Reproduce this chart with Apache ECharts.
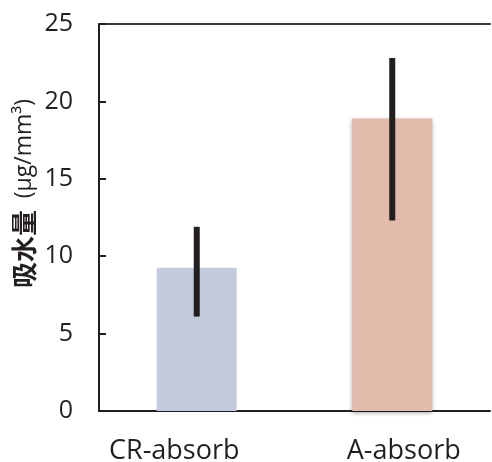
<!DOCTYPE html>
<html>
<head>
<meta charset="utf-8">
<script src="https://cdn.jsdelivr.net/npm/echarts@6/dist/echarts.min.js"></script>
<style>
  html, body { margin: 0; padding: 0; background: #fff; }
  #chart { width: 492px; height: 462px; }
</style>
</head>
<body>
<div id="chart"></div>
<script>
const categories = ['CR-absorb', 'A-absorb']
const values = [9.25, 18.9]
const errLow = [6.1, 12.3]
const errHigh = [11.9, 22.8]
const barColors = ['#c2cadc', '#e2bbad']

const chart = echarts.init(document.getElementById('chart'), null, { renderer: 'canvas' })

const font = '"Open Sans", "Noto Sans", sans-serif'
const labelStyle = { fontSize: 27, color: '#231f20', fontFamily: font }

chart.setOption({
  animation: false,
  grid: { left: 99, right: 2, top: 24, bottom: 51, containLabel: false, outerBoundsMode: 'none' },
  xAxis: [
    {
      type: 'category',
      data: categories,
      axisLine: { lineStyle: { color: '#231f20', width: 2 } },
      axisTick: { show: false },
      axisLabel: {
        margin: 27,
        formatter: (v, i) => (i === 0 ? '{l|' + v + '}' : '{r|' + v + '}'),
        rich: {
          l: { ...labelStyle, padding: [0, 45, 0, 0] },
          r: { ...labelStyle, padding: [0, 0, 0, 23] },
        },
      },
    },
    {
      type: 'category',
      data: categories,
      position: 'top',
      axisLine: { lineStyle: { color: '#3a3a3a', width: 2 } },
      axisTick: { show: false },
      axisLabel: { show: false },
    },
  ],
  yAxis: {
    type: 'value',
    min: 0,
    max: 25,
    interval: 5,
    name: '{b|吸水量}{n|  (μg/mm³)}',
    nameLocation: 'middle',
    nameGap: 62,
    nameMoveOverlap: false,
    nameTextStyle: {
      color: '#231f20',
      padding: [0, 0, 0, 48],
      rich: {
        b: { fontSize: 26, fontWeight: 'bold', fontFamily: '"Noto Sans CJK SC", sans-serif', color: '#231f20' },
        n: { fontSize: 23, fontFamily: font, color: '#231f20' },
      },
    },
    axisLine: { show: true, lineStyle: { color: '#231f20', width: 2 } },
    axisTick: { show: true, inside: true, length: 7, lineStyle: { color: '#231f20', width: 2 } },
    axisLabel: { fontSize: 25, color: '#231f20', fontFamily: font, margin: 26 },
    splitLine: { show: false },
  },
  series: [
    {
      type: 'bar',
      barWidth: 80,
      data: values.map((v, i) => ({
        value: v,
        itemStyle: {
          color: barColors[i],
          shadowBlur: i === 1 ? 4 : 0,
          shadowColor: 'rgba(0,0,0,0.35)',
          shadowOffsetY: i === 1 ? 2 : 0,
        },
      })),
      z: 1,
    },
    {
      type: 'custom',
      data: categories.map((c, i) => [i, errLow[i], errHigh[i]]),
      renderItem: (params, api) => {
        const lo = api.coord([api.value(0), api.value(1)])
        const hi = api.coord([api.value(0), api.value(2)])
        return {
          type: 'line',
          shape: { x1: lo[0], y1: lo[1], x2: hi[0], y2: hi[1] },
          style: { stroke: '#231f20', lineWidth: 6 },
        }
      },
      z: 3,
    },
  ],
})
</script>
</body>
</html>
